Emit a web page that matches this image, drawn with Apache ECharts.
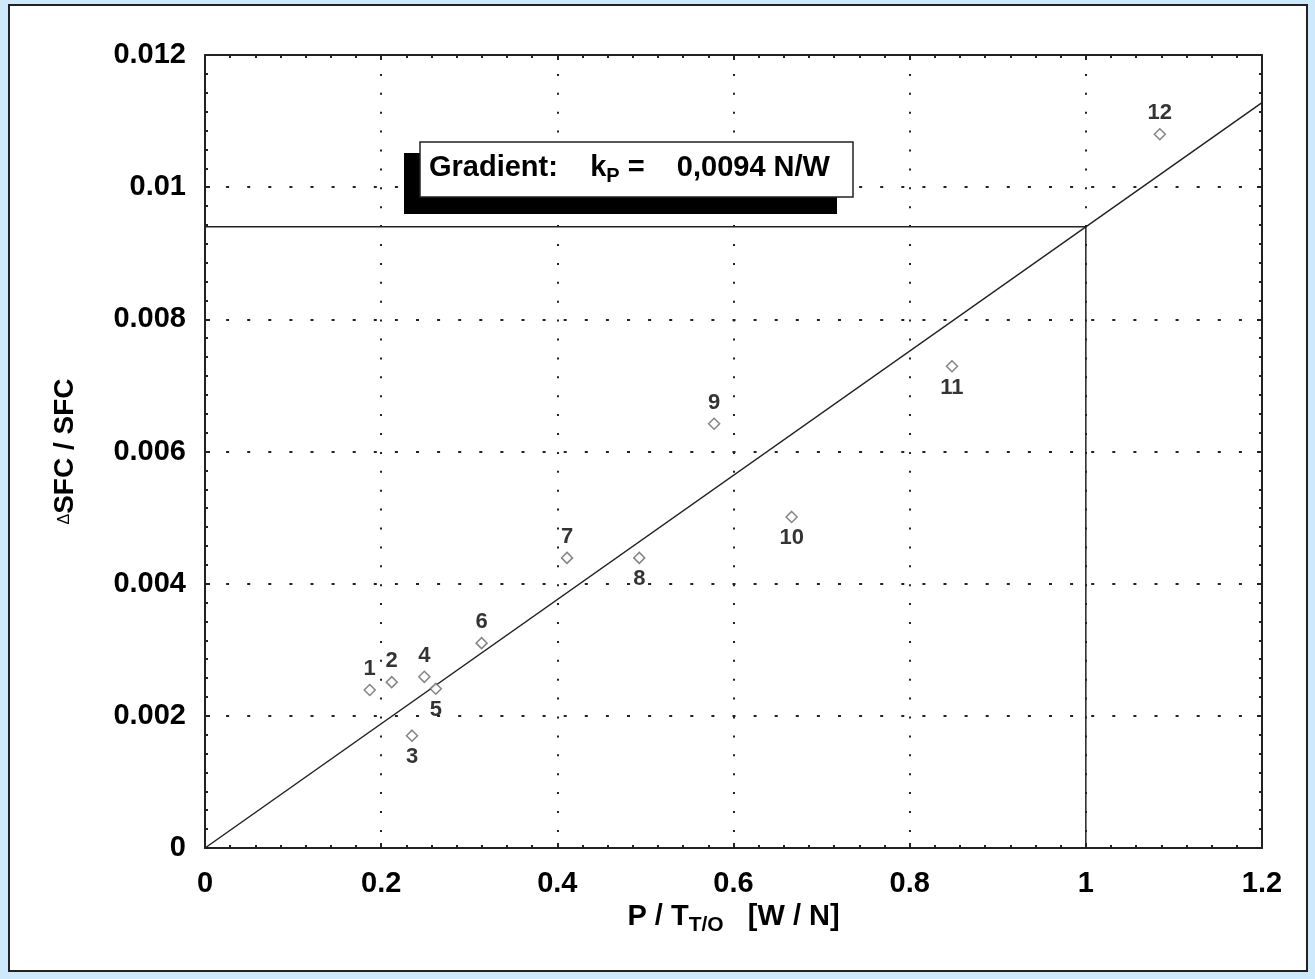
<!DOCTYPE html>
<html>
<head>
<meta charset="utf-8">
<script src="https://cdn.jsdelivr.net/npm/echarts@6/dist/echarts.min.js"></script>
<style>
  html, body { margin: 0; padding: 0; background: #cde9fb; }
  #frame { position: absolute; left: 8px; top: 4px; width: 1296px; height: 964px; background: #fff; border: 2px solid #222; }
  #chart { position: absolute; left: 0; top: 0; width: 1315px; height: 979px; }
</style>
</head>
<body>
<div id="frame"></div>
<div id="chart"></div>
<script>
// measured points (P / T_T/O vs dSFC / SFC)
var pointIds = ['1', '2', '3', '4', '5', '6', '7', '8', '9', '10', '11', '12'];
var ratioX = [0.187, 0.212, 0.235, 0.249, 0.262, 0.314, 0.411, 0.493, 0.578, 0.666, 0.848, 1.084];
var sfcY = [0.00239, 0.00251, 0.0017, 0.00259, 0.00241, 0.0031, 0.00439, 0.00439, 0.00642, 0.00501, 0.00729, 0.0108];
var labelSide = ['top', 'top', 'bottom', 'top', 'bottom', 'top', 'top', 'bottom', 'top', 'bottom', 'bottom', 'top'];

// regression line through origin, kP = 0.0094 N/W
var fitLine = [[0, 0], [1.2, 0.01128]];
// reading lines at P/T = 1
var readLine = [[0, 0.0094], [1, 0.0094], [1, 0]];

var chart = echarts.init(document.getElementById('chart'), null, { renderer: 'canvas' });

var fontFam = '"Liberation Sans", Arial, sans-serif';

var pts = ratioX.map(function (x, i) {
  return { value: [x, sfcY[i]], label: { position: labelSide[i] } };
});

function frameAxis(pos, isX) {
  return {
    type: 'value',
    position: pos,
    min: 0,
    max: isX ? 1.2 : 0.012,
    interval: isX ? 0.2 : 0.002,
    axisLine: { show: true, onZero: false, lineStyle: { color: '#222', width: 2 } },
    axisTick: { show: true, inside: true, length: 5, lineStyle: { color: '#222', width: 2 } },
    minorTick: { show: true, splitNumber: 7, length: 3, lineStyle: { color: '#222', width: 2 } },
    axisLabel: { show: false },
    splitLine: { show: false }
  };
}

var option = {
  animation: false,
  backgroundColor: 'transparent',
  textStyle: { fontFamily: fontFam },
  grid: { left: 205, top: 55, right: 53, bottom: 131 },
  xAxis: [{
    type: 'value',
    min: 0,
    max: 1.2,
    interval: 0.2,
    name: '{n|P / T}{s|T/O}{n|   [W / N]}',
    nameLocation: 'middle',
    nameGap: 49,
    nameTextStyle: {
      rich: {
        n: { fontSize: 29, fontWeight: 'bold', color: '#000', fontFamily: fontFam, lineHeight: 36 },
        s: { fontSize: 21, fontWeight: 'bold', color: '#000', fontFamily: fontFam, lineHeight: 18, verticalAlign: 'bottom' }
      }
    },
    axisLine: { show: true, onZero: false, lineStyle: { color: '#222', width: 2 } },
    axisTick: { show: true, inside: true, length: 5, lineStyle: { color: '#222', width: 2 } },
    minorTick: { show: true, splitNumber: 7, length: 3, lineStyle: { color: '#222', width: 2 } },
    axisLabel: { margin: 21, fontSize: 29, fontWeight: 'bold', color: '#000', fontFamily: fontFam },
    splitLine: { show: true, lineStyle: { color: '#222', width: 2, type: [2, 16.9] } }
  }, frameAxis('top', true)],
  yAxis: [{
    type: 'value',
    min: 0,
    max: 0.012,
    interval: 0.002,
    name: '{d|Δ}{t|SFC / SFC}',
    nameLocation: 'middle',
    nameRotate: 90,
    nameGap: 126,
    nameTextStyle: {
      rich: {
        d: { fontSize: 16, color: '#000', fontFamily: fontFam },
        t: { fontSize: 28, fontWeight: 'bold', color: '#000', fontFamily: fontFam }
      }
    },
    axisLine: { show: true, onZero: false, lineStyle: { color: '#222', width: 2 } },
    axisTick: { show: true, inside: true, length: 5, lineStyle: { color: '#222', width: 2 } },
    minorTick: { show: true, splitNumber: 7, length: 3, lineStyle: { color: '#222', width: 2 } },
    axisLabel: { margin: 19, fontSize: 29, fontWeight: 'bold', color: '#000', fontFamily: fontFam },
    splitLine: { show: true, lineStyle: { color: '#222', width: 2, type: [3, 18.1] } }
  }, frameAxis('right', false)],
  series: [
    {
      type: 'line',
      data: fitLine,
      symbol: 'none',
      lineStyle: { color: '#222', width: 1.5 },
      z: 3
    },
    {
      type: 'line',
      data: readLine,
      symbol: 'none',
      lineStyle: { color: '#222', width: 1.5 },
      z: 3
    },
    {
      type: 'scatter',
      data: pts,
      symbol: 'diamond',
      symbolSize: 11,
      itemStyle: { color: '#fff', borderColor: '#666', borderWidth: 1.5 },
      label: {
        show: true,
        distance: 4,
        fontSize: 22,
        fontWeight: 'bold',
        color: '#000',
        fontFamily: fontFam,
        formatter: function (p) { return pointIds[p.dataIndex]; }
      },
      z: 5
    }
  ],
  graphic: [
    {
      type: 'rect',
      z: 100,
      shape: { x: 404, y: 153, width: 433, height: 61 },
      style: { fill: '#000' }
    },
    {
      type: 'rect',
      z: 101,
      shape: { x: 420, y: 142, width: 433, height: 55 },
      style: { fill: '#fff', stroke: '#222', lineWidth: 1.5 }
    },
    {
      type: 'text',
      z: 102,
      x: 429,
      y: 168,
      style: {
        text: '{a|Gradient:    k}{b|P}{a| =    0,0094 N/W}',
        verticalAlign: 'middle',
        rich: {
          a: { fontSize: 29, fontWeight: 'bold', fill: '#000', fontFamily: fontFam, lineHeight: 36 },
          b: { fontSize: 20, fontWeight: 'bold', fill: '#000', fontFamily: fontFam, lineHeight: 18, verticalAlign: 'bottom' }
        }
      }
    }
  ]
};

chart.setOption(option);
</script>
</body>
</html>
